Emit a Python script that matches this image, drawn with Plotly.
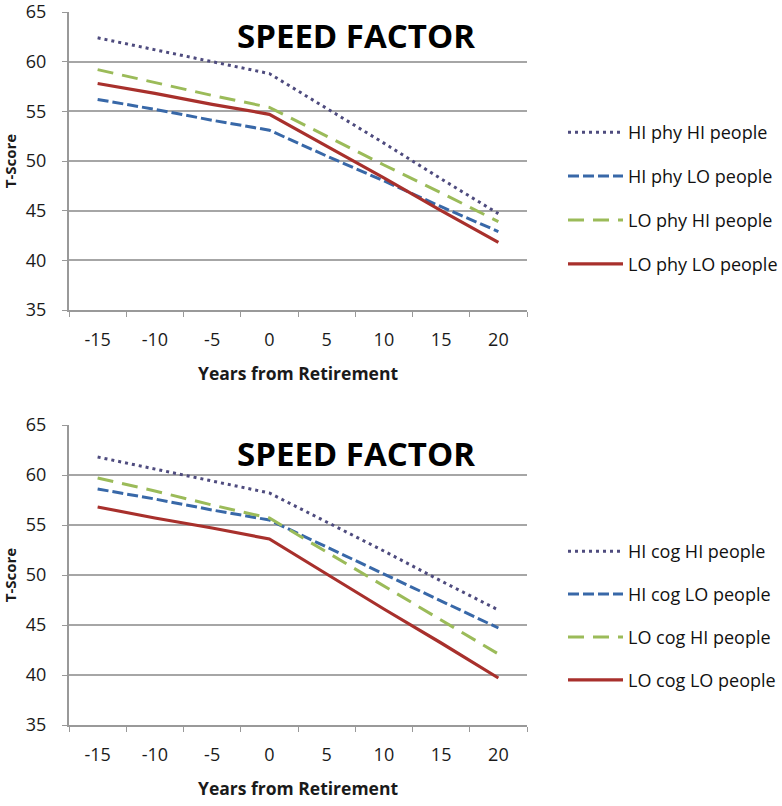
import plotly.graph_objects as go

years = ["-15", "-10", "-5", "0", "5", "10", "15", "20"]

# Top panel (physical activity)
hi_phy_hi = [62.4, 61.2, 60.0, 58.8, 55.3, 51.8, 48.2, 44.7]
hi_phy_lo = [56.2, 55.2, 54.1, 53.1, 50.5, 48.0, 45.4, 42.9]
lo_phy_hi = [59.2, 57.9, 56.6, 55.4, 52.5, 49.6, 46.8, 43.9]
lo_phy_lo = [57.8, 56.8, 55.7, 54.7, 51.5, 48.3, 45.0, 41.8]

# Bottom panel (cognitive activity)
hi_cog_hi = [61.8, 60.6, 59.4, 58.2, 55.3, 52.4, 49.4, 46.5]
hi_cog_lo = [58.6, 57.6, 56.5, 55.5, 52.8, 50.1, 47.4, 44.7]
lo_cog_hi = [59.7, 58.4, 57.0, 55.7, 52.3, 48.9, 45.5, 42.1]
lo_cog_lo = [56.8, 55.7, 54.7, 53.6, 50.1, 46.6, 43.2, 39.7]

top_names = ["HI phy HI people", "HI phy LO people", "LO phy HI people", "LO phy LO people"]
bot_names = ["HI cog HI people", "HI cog LO people", "LO cog HI people", "LO cog LO people"]

styles = [
    dict(color="#4E4B7E", width=3, dash="3px,4px"),
    dict(color="#3868A8", width=3, dash="11px,4px"),
    dict(color="#9BBB59", width=3, dash="16px,9px"),
    dict(color="#A8302C", width=3.2, dash="solid"),
]

W, H = 782, 806
FONT = "Open Sans"

def px_x(sx):
    return sx / W

def px_y(sy):
    return max(0.0, min(1.0, 1 - sy / H))

fig = go.Figure()

for i, (name, vals) in enumerate(zip(top_names, [hi_phy_hi, hi_phy_lo, lo_phy_hi, lo_phy_lo])):
    fig.add_trace(go.Scatter(x=years, y=vals, mode="lines", name=name, line=styles[i],
                             xaxis="x", yaxis="y", legend="legend", legendgroup="t%d" % i))
for i, (name, vals) in enumerate(zip(bot_names, [hi_cog_hi, hi_cog_lo, lo_cog_hi, lo_cog_lo])):
    fig.add_trace(go.Scatter(x=years, y=vals, mode="lines", name=name, line=styles[i],
                             xaxis="x2", yaxis="y2", legend="legend2", legendgroup="b%d" % i))

xd = [px_x(69), px_x(527)]
top_dom = [px_y(310), px_y(12)]
bot_dom = [px_y(725), px_y(425)]

tickfont = dict(family=FONT, size=18, color="#1a1a1a")
xtitlefont = dict(family=FONT, size=17.5, color="#1a1a1a", weight="bold")
ytitlefont = dict(family=FONT, size=15, color="#1a1a1a", weight="bold")

def xaxis(dom, anchor):
    return dict(domain=dom, anchor=anchor, type="category", categoryorder="array",
                categoryarray=years, range=[-0.5, 7.5], tickson="boundaries",
                ticks="outside", ticklen=5, tickcolor="#999999", showgrid=False,
                showline=True, linecolor="#999999", linewidth=2, tickfont=tickfont,
                ticklabelstandoff=12,
                title=dict(text="Years from Retirement", font=xtitlefont, standoff=18),
                zeroline=False, automargin=False)

def yaxis(dom, anchor):
    return dict(domain=dom, anchor=anchor, range=[35, 65], dtick=5, tick0=35,
                ticks="outside", ticklen=5, tickcolor="#999999", showgrid=True,
                gridcolor="#A6A6A6", gridwidth=2, showline=True, linecolor="#999999",
                linewidth=2, tickfont=tickfont, zeroline=False, automargin=False,
                ticklabelstandoff=12, ticklabeloverflow="allow",
                title=dict(text="T-Score", font=ytitlefont, standoff=14))

legfont = dict(family=FONT, size=18, color="#111111")

fig.update_layout(
    width=W, height=H,
    margin=dict(l=0, r=0, t=0, b=0, autoexpand=False),
    paper_bgcolor="white", plot_bgcolor="white",
    showlegend=True,
    xaxis=xaxis(xd, "y"),
    yaxis=yaxis(top_dom, "x"),
    xaxis2=xaxis(xd, "y2"),
    yaxis2=yaxis(bot_dom, "x2"),
    legend=dict(x=px_x(563), y=px_y(114), xanchor="left", yanchor="top",
                font=legfont, tracegroupgap=17.5, itemwidth=55, bgcolor="rgba(0,0,0,0)"),
    legend2=dict(x=px_x(563), y=px_y(533), xanchor="left", yanchor="top",
                 font=legfont, tracegroupgap=16.5, itemwidth=55, bgcolor="rgba(0,0,0,0)"),
    annotations=[
        dict(text="SPEED FACTOR", x=px_x(356), y=px_y(35), xref="paper", yref="paper",
             showarrow=False, xanchor="center", yanchor="middle",
             font=dict(family=FONT, size=33, color="#000000", weight="bold")),
        dict(text="SPEED FACTOR", x=px_x(356), y=px_y(453), xref="paper", yref="paper",
             showarrow=False, xanchor="center", yanchor="middle",
             font=dict(family=FONT, size=33, color="#000000", weight="bold")),
    ],
)

fig.write_html("out.html", config={"displayModeBar": False},
               post_script="document.body.style.margin='0';")
